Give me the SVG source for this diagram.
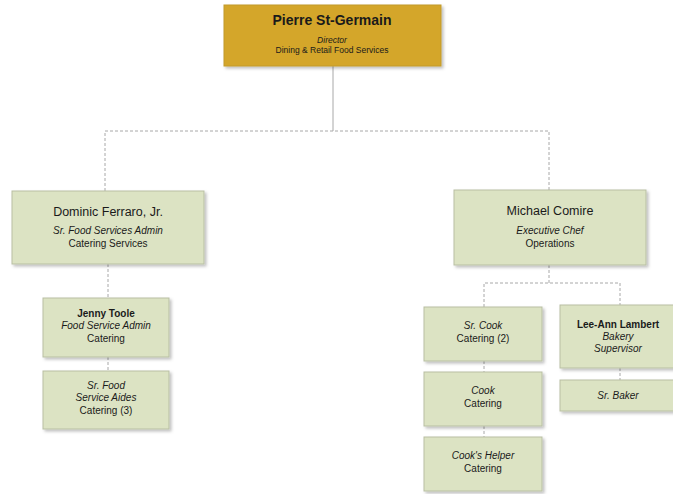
<svg xmlns="http://www.w3.org/2000/svg" width="673" height="494" viewBox="0 0 673 494">
<style>
text{font-family:"Liberation Sans",Arial,sans-serif;fill:#1a1a1a;text-anchor:middle}
.box{fill:#DCE3C3;stroke:#B9BFA3;stroke-width:1}
.gold{fill:#D4A62B;stroke:#C29A2A;stroke-width:1}
.name{font-size:12.5px}
.nm{font-size:10px;font-weight:bold}
.it{font-size:10px;font-style:italic}
.rg{font-size:10px}
.c{fill:none;stroke:#A8A8A8;stroke-width:1}
.d{fill:none;stroke:#A8A8A8;stroke-width:1;stroke-dasharray:3 2}
</style>
<defs>
<filter id="sh" x="-10%" y="-10%" width="130%" height="140%">
<feDropShadow dx="2" dy="2" stdDeviation="1.5" flood-color="#000" flood-opacity="0.25"/>
</filter>
</defs>
<g id="connectors">
<path class="c" d="M333 66V131"/>
<path class="d" d="M105 191V131H549V190"/>
<path class="d" d="M108 264V298"/>
<path class="d" d="M108 357V371"/>
<path class="d" d="M549 265V283"/>
<path class="d" d="M484 307V283H620V305"/>
<path class="d" d="M484 361V372"/>
<path class="d" d="M484 426V437"/>
<path class="d" d="M620 368V380"/>
</g>
<g id="pierre">
<rect class="gold" x="224" y="5" width="217" height="61" filter="url(#sh)"/>
<text x="332" y="25" style="font-size:14px;font-weight:bold">Pierre St-Germain</text>
<text x="332" y="43" style="font-size:8.5px;font-style:italic">Director</text>
<text x="332" y="53" style="font-size:8.5px">Dining &amp; Retail Food Services</text>
</g>
<g id="dominic">
<rect class="box" x="12" y="191" width="192" height="73" filter="url(#sh)"/>
<text class="name" x="108" y="216">Dominic Ferraro, Jr.</text>
<text class="it" x="108" y="234">Sr. Food Services Admin</text>
<text class="rg" x="108" y="247">Catering Services</text>
</g>
<g id="michael">
<rect class="box" x="454" y="190" width="192" height="75" filter="url(#sh)"/>
<text class="name" x="550" y="215">Michael Comire</text>
<text class="it" x="550" y="234">Executive Chef</text>
<text class="rg" x="550" y="247">Operations</text>
</g>
<g id="jenny">
<rect class="box" x="43" y="298" width="126" height="59" filter="url(#sh)"/>
<text class="nm" x="106" y="317">Jenny Toole</text>
<text class="it" x="106" y="329">Food Service Admin</text>
<text class="rg" x="106" y="342">Catering</text>
</g>
<g id="srfoodaides">
<rect class="box" x="43" y="371" width="126" height="58" filter="url(#sh)"/>
<text class="it" x="106" y="389">Sr. Food</text>
<text class="it" x="106" y="401">Service Aides</text>
<text class="rg" x="106" y="414">Catering (3)</text>
</g>
<g id="srcook">
<rect class="box" x="424" y="307" width="118" height="54" filter="url(#sh)"/>
<text class="it" x="483" y="329">Sr. Cook</text>
<text class="rg" x="483" y="342">Catering (2)</text>
</g>
<g id="cook">
<rect class="box" x="424" y="372" width="118" height="54" filter="url(#sh)"/>
<text class="it" x="483" y="394">Cook</text>
<text class="rg" x="483" y="407">Catering</text>
</g>
<g id="cookshelper">
<rect class="box" x="424" y="437" width="118" height="54" filter="url(#sh)"/>
<text class="it" x="483" y="459">Cook's Helper</text>
<text class="rg" x="483" y="472">Catering</text>
</g>
<g id="leeann">
<rect class="box" x="560" y="305" width="116" height="63" filter="url(#sh)"/>
<text class="nm" x="618" y="328">Lee-Ann Lambert</text>
<text class="it" x="618" y="340">Bakery</text>
<text class="it" x="618" y="352">Supervisor</text>
</g>
<g id="srbaker">
<rect class="box" x="560" y="380" width="116" height="31" filter="url(#sh)"/>
<text class="it" x="618" y="399">Sr. Baker</text>
</g>
</svg>
